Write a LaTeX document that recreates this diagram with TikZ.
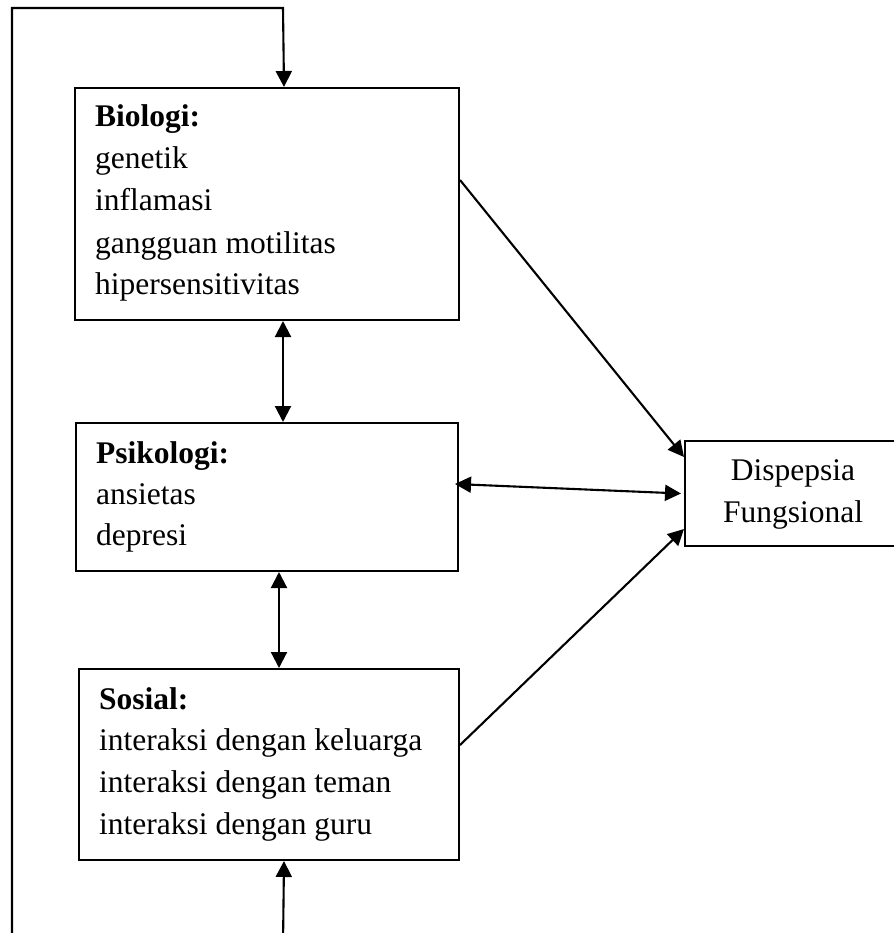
\documentclass[tikz,border=0pt]{standalone}
\usepackage{fontspec}
\setmainfont{Liberation Serif}
\usetikzlibrary{arrows.meta}
\begin{document}
\begin{tikzpicture}[x=1pt,y=-1pt,
  box/.style={draw,line width=2pt,inner sep=0pt,anchor=north west},
  txt/.style={inner sep=0pt,anchor=base west,font=\fontsize{31.5}{42}\selectfont},
  ctxt/.style={inner sep=0pt,anchor=base,font=\fontsize{31.5}{42}\selectfont},
  conn/.style={line width=2.1pt},
  arr/.style={conn,-{Triangle[length=16pt,width=16pt]}},
  dbl/.style={conn,{Triangle[length=16pt,width=16pt]}-{Triangle[length=16pt,width=16pt]}}]
\useasboundingbox (0,0) rectangle (893,933);
% boxes
\node[box,minimum width=384pt,minimum height=232pt] (bio) at (74,87) {};
\node[box,minimum width=382pt,minimum height=148pt] (psi) at (75,422) {};
\node[box,minimum width=380pt,minimum height=191pt] (sos) at (78,668) {};
\node[box,minimum width=218pt,minimum height=105pt] (disp) at (684,440) {};
% texts
\node[txt] (b1) at (95,127) {\textbf{Biologi:}};
\node[txt] (b2) at (95,169) {genetik};
\node[txt] (b3) at (95,211) {inflamasi};
\node[txt] (b4) at (95,253) {gangguan motilitas};
\node[txt] (b5) at (95,294) {hipersensitivitas};
\node[txt] (p1) at (96,463) {\textbf{Psikologi:}};
\node[txt] (p2) at (96,504) {ansietas};
\node[txt] (p3) at (96,545) {depresi};
\node[txt] (s1) at (99,709) {\textbf{Sosial:}};
\node[txt] (s2) at (99,750) {interaksi dengan keluarga};
\node[txt] (s3) at (99,792) {interaksi dengan teman};
\node[txt] (s4) at (99,834) {interaksi dengan guru};
\node[ctxt] (d1) at (793,480) {Dispepsia};
\node[ctxt] (d2) at (793,522) {Fungsional};
% free ends
\coordinate (botL) at (12,945);
\coordinate (topR) at (283,8);
\coordinate (botM) at (283,945);
% connectors
\draw[arr] (botL) |- (topR) -- ([xshift=17pt]bio.north);
\draw[arr] (botM) -- ([xshift=15pt]sos.south);
\draw[dbl] ([xshift=16pt]bio.south) -- ([xshift=16pt]psi.north);
\draw[dbl] ([xshift=12pt]psi.south) -- ([xshift=10pt]sos.north);
\draw[arr] ([yshift=-93pt]bio.north east) -- ([yshift=-17pt]disp.north west);
\draw[dbl] ([xshift=-4pt,yshift=-62pt]psi.north east) -- ([xshift=-3pt]disp.west);
\draw[arr] ([yshift=-77pt]sos.north east) -- ([yshift=18pt]disp.south west);
\end{tikzpicture}
\end{document}
